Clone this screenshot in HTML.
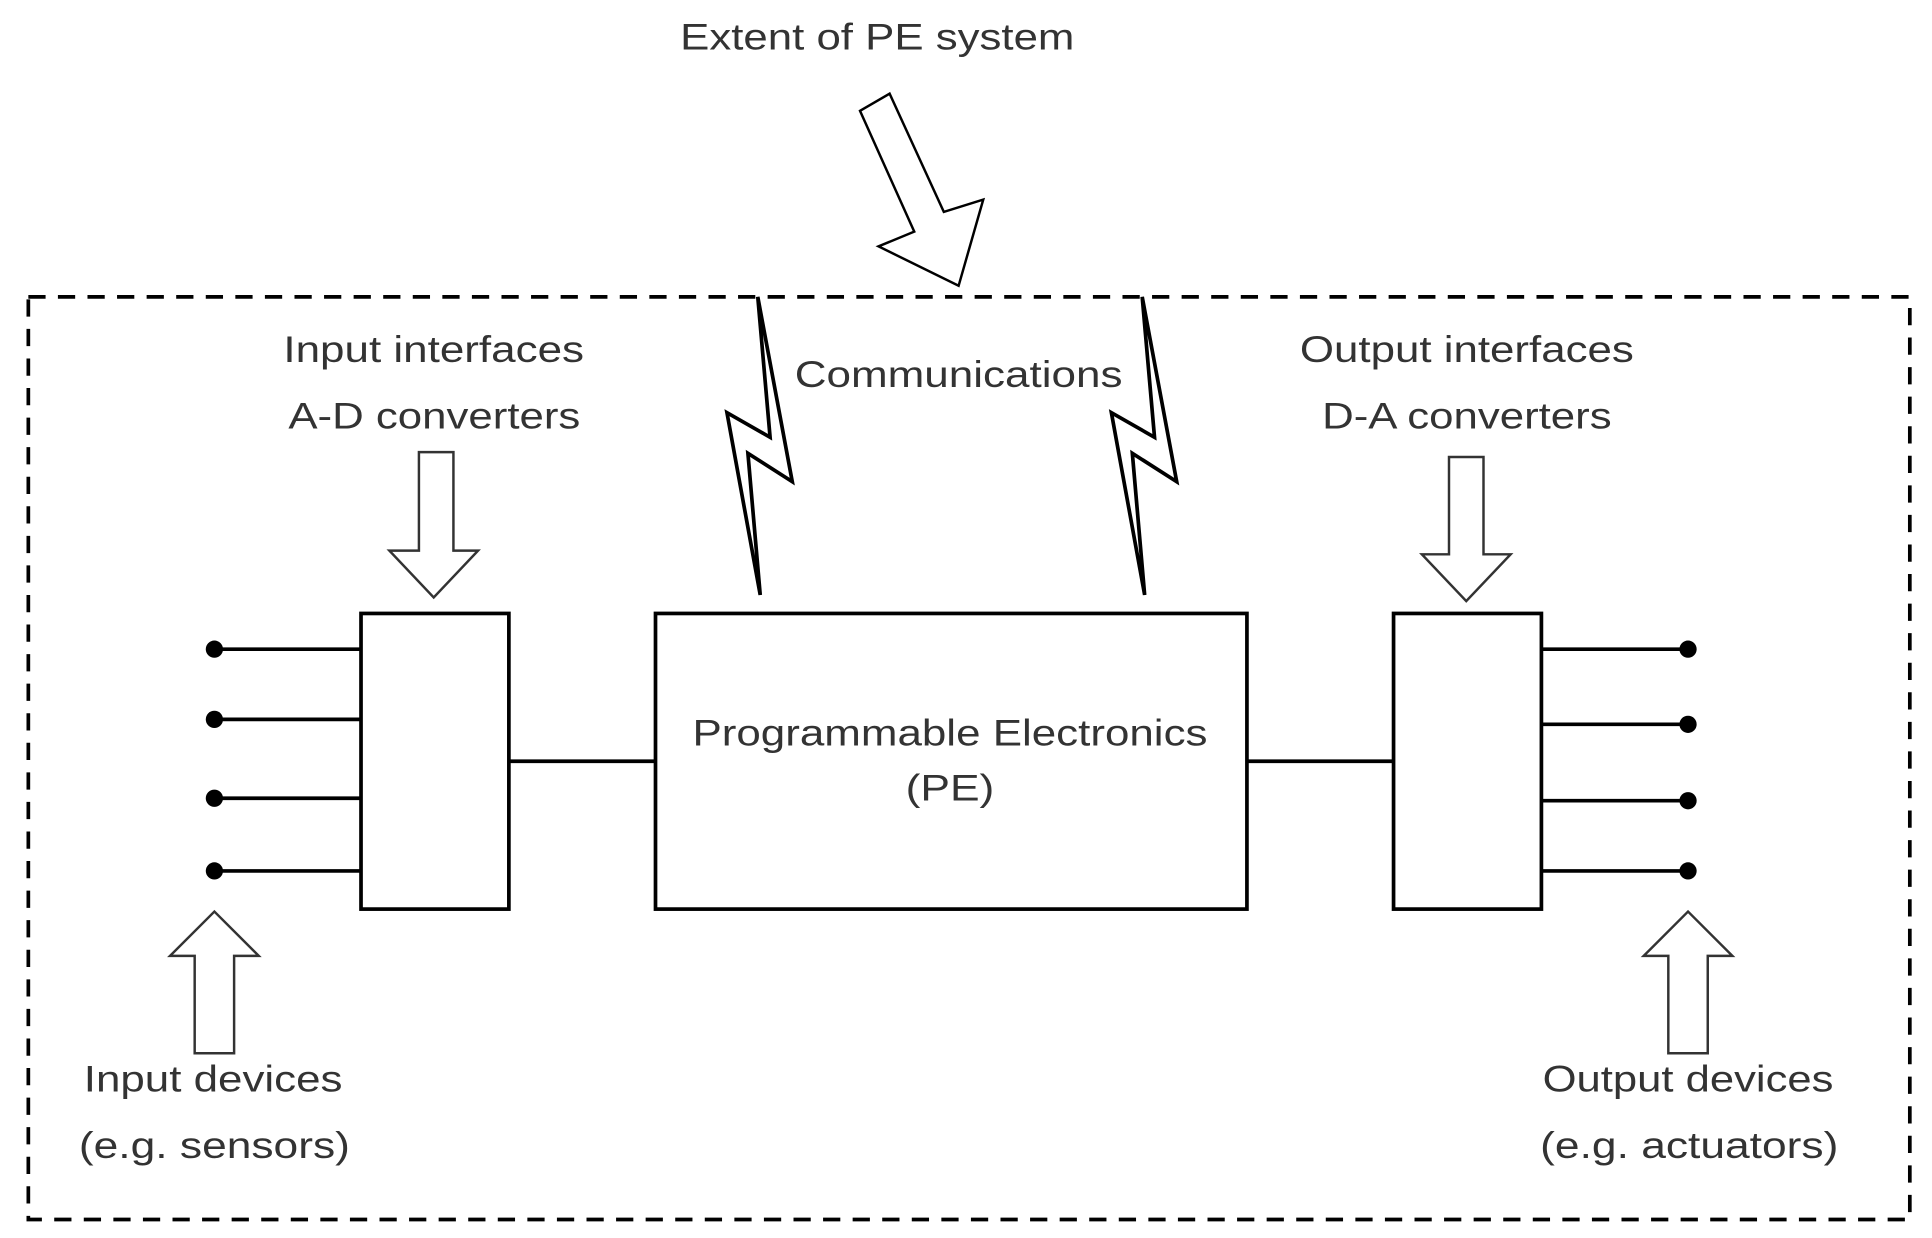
<!DOCTYPE html>
<html><head><meta charset="utf-8"><style>
html,body{margin:0;padding:0;background:#fff;}
svg{display:block;}
text{font-family:"Liberation Sans",sans-serif;font-size:30px;fill:#333;}
</style></head><body>
<svg width="1932" height="1238" viewBox="0 0 1568 1005" preserveAspectRatio="none" xmlns="http://www.w3.org/2000/svg">
<rect x="23" y="241" width="1527" height="749" fill="none" stroke="#000" stroke-width="3" stroke-dasharray="14,10"/>
<text x="552" y="40" textLength="320" lengthAdjust="spacingAndGlyphs">Extent of PE system</text>
<polygon points="698,90 722,76 766,172 798,162 778,232 713,200 742,188" fill="#fff" stroke="#000" stroke-width="2"/>
<polygon points="615,241 643,391 607,368 617,483 590,335 625,355" fill="#fff" stroke="#000" stroke-width="3" stroke-linejoin="miter"/>
<polygon points="927,241 955,391 919,368 929,483 902,335 937,355" fill="#fff" stroke="#000" stroke-width="3" stroke-linejoin="miter"/>
<text x="230" y="294" textLength="244" lengthAdjust="spacingAndGlyphs">Input interfaces</text>
<text x="234" y="348" textLength="237" lengthAdjust="spacingAndGlyphs">A-D converters</text>
<text x="645" y="314" textLength="266" lengthAdjust="spacingAndGlyphs">Communications</text>
<text x="1055" y="294" textLength="271" lengthAdjust="spacingAndGlyphs">Output interfaces</text>
<text x="1073" y="348" textLength="235" lengthAdjust="spacingAndGlyphs">D-A converters</text>
<polygon points="340,367 368,367 368,447 388,447 352,485 316,447 340,447" fill="#fff" stroke="#333" stroke-width="2"/>
<polygon points="1176,371 1204,371 1204,450 1226,450 1190,488 1154,450 1176,450" fill="#fff" stroke="#333" stroke-width="2"/>
<g fill="#fff" stroke="#000" stroke-width="3">
<rect x="293" y="498" width="120" height="240"/>
<rect x="532" y="498" width="480" height="240"/>
<rect x="1131" y="498" width="120" height="240"/>
</g>
<g stroke="#000" stroke-width="3">
<line x1="413" y1="618" x2="532" y2="618"/>
<line x1="1012" y1="618" x2="1131" y2="618"/>
<line x1="174" y1="527" x2="293" y2="527"/>
<line x1="174" y1="584" x2="293" y2="584"/>
<line x1="174" y1="648" x2="293" y2="648"/>
<line x1="174" y1="707" x2="293" y2="707"/>
<line x1="1251" y1="527" x2="1370" y2="527"/>
<line x1="1251" y1="588" x2="1370" y2="588"/>
<line x1="1251" y1="650" x2="1370" y2="650"/>
<line x1="1251" y1="707" x2="1370" y2="707"/>
</g>
<g fill="#000">
<circle cx="174" cy="527" r="7"/><circle cx="174" cy="584" r="7"/><circle cx="174" cy="648" r="7"/><circle cx="174" cy="707" r="7"/>
<circle cx="1370" cy="527" r="7"/><circle cx="1370" cy="588" r="7"/><circle cx="1370" cy="650" r="7"/><circle cx="1370" cy="707" r="7"/>
</g>
<text x="562" y="605" textLength="418" lengthAdjust="spacingAndGlyphs">Programmable Electronics</text>
<text x="735" y="650" textLength="72" lengthAdjust="spacingAndGlyphs">(PE)</text>
<polygon points="174,740 210,776 190,776 190,855 158,855 158,776 138,776" fill="#fff" stroke="#333" stroke-width="2"/>
<polygon points="1370,740 1406,776 1386,776 1386,855 1354,855 1354,776 1334,776" fill="#fff" stroke="#333" stroke-width="2"/>
<text x="68" y="886" textLength="210" lengthAdjust="spacingAndGlyphs">Input devices</text>
<text x="64" y="940" textLength="220" lengthAdjust="spacingAndGlyphs">(e.g. sensors)</text>
<text x="1252" y="886" textLength="236" lengthAdjust="spacingAndGlyphs">Output devices</text>
<text x="1250" y="940" textLength="242" lengthAdjust="spacingAndGlyphs">(e.g. actuators)</text>
</svg>
</body></html>
